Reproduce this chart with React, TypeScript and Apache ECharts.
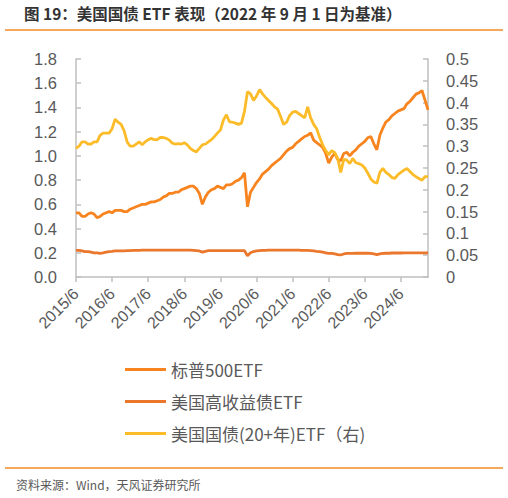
import * as echarts from 'echarts'
import { useEffect, useRef } from 'react'

// monthly points, first one is 2015/6
const startYear = 2015
const startMonth = 6

const sp500 = [
  0.53, 0.53, 0.5, 0.5, 0.52, 0.53, 0.52, 0.49, 0.5, 0.52, 0.53, 0.54,
  0.53, 0.55, 0.55, 0.55, 0.54, 0.54, 0.56, 0.57, 0.58, 0.59, 0.6, 0.6,
  0.61, 0.62, 0.62, 0.63, 0.64, 0.66, 0.67, 0.69, 0.69, 0.7, 0.7, 0.72,
  0.73, 0.74, 0.75, 0.75, 0.73, 0.69, 0.6, 0.66, 0.7, 0.72, 0.73, 0.75,
  0.74, 0.73, 0.76, 0.76, 0.77, 0.79, 0.8, 0.82, 0.86, 0.58, 0.7, 0.74,
  0.78, 0.81, 0.85, 0.87, 0.89, 0.92, 0.94, 0.96, 0.98, 1.01, 1.04, 1.06,
  1.07, 1.1, 1.12, 1.14, 1.16, 1.17, 1.19, 1.13, 1.11, 1.09, 1.07, 1.02,
  0.94, 0.99, 1.02, 0.97, 0.96, 1.02, 1.03, 1.0, 1.03, 1.05, 1.08, 1.1,
  1.12, 1.15, 1.16, 1.1, 1.05, 1.17, 1.23, 1.28, 1.3, 1.33, 1.35, 1.37,
  1.38, 1.39, 1.43, 1.45, 1.48, 1.51, 1.52, 1.54, 1.46, 1.38,
]

const highYield = [
  0.22, 0.22, 0.215, 0.21, 0.21, 0.205, 0.2, 0.2, 0.196, 0.2, 0.205, 0.21,
  0.212, 0.215, 0.215, 0.215, 0.215, 0.218, 0.218, 0.22, 0.22, 0.22, 0.222, 0.222,
  0.222, 0.222, 0.222, 0.222, 0.222, 0.222, 0.222, 0.222, 0.222, 0.222, 0.222, 0.222,
  0.222, 0.222, 0.222, 0.22, 0.218, 0.215, 0.205, 0.212, 0.218, 0.218, 0.218, 0.218,
  0.218, 0.218, 0.218, 0.218, 0.218, 0.218, 0.218, 0.218, 0.218, 0.175, 0.2, 0.21,
  0.215, 0.218, 0.22, 0.22, 0.222, 0.222, 0.222, 0.222, 0.222, 0.222, 0.222, 0.222,
  0.222, 0.222, 0.222, 0.22, 0.22, 0.22, 0.218, 0.215, 0.212, 0.21, 0.205, 0.2,
  0.195, 0.195, 0.19, 0.185, 0.182, 0.19, 0.195, 0.195, 0.195, 0.196, 0.196, 0.196,
  0.196, 0.196, 0.195, 0.19, 0.185, 0.19, 0.195, 0.196, 0.196, 0.198, 0.198, 0.198,
  0.198, 0.2, 0.2, 0.2, 0.2, 0.2, 0.2, 0.2, 0.2, 0.2,
]

// right axis
const treasury20 = [
  0.295, 0.3, 0.31, 0.31, 0.305, 0.305, 0.31, 0.31, 0.325, 0.33, 0.33, 0.33,
  0.34, 0.362, 0.355, 0.35, 0.335, 0.31, 0.3, 0.3, 0.305, 0.31, 0.303, 0.31,
  0.315, 0.318, 0.315, 0.315, 0.32, 0.32, 0.318, 0.314, 0.307, 0.305, 0.306, 0.305,
  0.308, 0.303, 0.295, 0.29, 0.287, 0.295, 0.303, 0.305, 0.31, 0.315, 0.322, 0.33,
  0.337, 0.36, 0.372, 0.356, 0.355, 0.353, 0.35, 0.353, 0.38, 0.425, 0.42, 0.405,
  0.415, 0.43, 0.42, 0.412, 0.405, 0.398, 0.39, 0.385, 0.368, 0.35, 0.355, 0.37,
  0.378, 0.38, 0.375, 0.37, 0.365, 0.39, 0.365, 0.35, 0.34, 0.32, 0.303, 0.29,
  0.28, 0.29, 0.285, 0.272, 0.24, 0.27, 0.268, 0.26, 0.272, 0.262, 0.26, 0.257,
  0.25, 0.238, 0.225, 0.218, 0.215, 0.24, 0.249, 0.24, 0.235, 0.228, 0.226, 0.235,
  0.24, 0.245, 0.249, 0.242, 0.235, 0.23, 0.226, 0.222, 0.23, 0.23,
]

const months = sp500.map((_, i) => {
  const t = startMonth - 1 + i
  return `${startYear + Math.floor(t / 12)}/${(t % 12) + 1}`
})

const seriesNames = ['标普500ETF', '美国高收益债ETF', '美国国债(20+年)ETF（右)']
const colors = ['#F7841E', '#EA772C', '#FCBC2A']

const font = '"Noto Sans CJK SC", "Noto Sans", sans-serif'
const numFont = '"Liberation Sans", Arial, sans-serif'

const App = () => {
  const chartRef = useRef<HTMLDivElement>(null)

  useEffect(() => {
    document.body.style.margin = '0'
    if (!chartRef.current) return
    const chart = echarts.init(chartRef.current, null, { renderer: 'svg' })

    const axisColor = '#BFBFBF'
    const labelColor = '#595959'

    chart.setOption({
      animation: false,
      color: colors,
      textStyle: { fontFamily: font },
      grid: { left: 76, right: 80, top: 59, bottom: 221 },
      legend: {
        orient: 'vertical',
        left: 125,
        top: 361,
        padding: 0,
        itemWidth: 41,
        itemHeight: 3,
        itemGap: 15,
        icon: 'rect',
        textStyle: { fontSize: 17, color: labelColor, fontFamily: font },
        data: seriesNames,
      },
      xAxis: {
        type: 'category',
        data: months,
        boundaryGap: false,
        axisLine: { lineStyle: { color: axisColor, width: 1.5 } },
        axisTick: { interval: 11, length: 5, lineStyle: { color: axisColor, width: 1.5 } },
        axisLabel: {
          interval: 11,
          rotate: 45,
          fontSize: 16,
          fontFamily: numFont,
          color: labelColor,
          margin: 14,
        },
        splitLine: { show: false },
      },
      yAxis: [
        {
          type: 'value',
          min: 0,
          max: 1.8,
          interval: 0.2,
          axisLine: { show: true, lineStyle: { color: axisColor, width: 1.5 } },
          axisTick: { show: true, inside: true, length: 5, lineStyle: { color: axisColor, width: 1.5 } },
          axisLabel: {
            fontSize: 16.5,
            fontFamily: numFont,
            color: labelColor,
            margin: 19,
            formatter: (v: number) => v.toFixed(1),
          },
          splitLine: { show: false },
        },
        {
          type: 'value',
          min: 0,
          max: 0.5,
          interval: 0.05,
          position: 'right',
          axisLine: { show: true, lineStyle: { color: axisColor, width: 1.5 } },
          axisTick: { show: true, inside: true, length: 5, lineStyle: { color: axisColor, width: 1.5 } },
          axisLabel: {
            fontSize: 16.5,
            fontFamily: numFont,
            color: labelColor,
            margin: 18,
            formatter: (v: number) => String(+v.toFixed(2)),
          },
          splitLine: { show: false },
        },
      ],
      series: [
        { name: seriesNames[0], data: sp500, yAxisIndex: 0 },
        { name: seriesNames[1], data: highYield, yAxisIndex: 0 },
        { name: seriesNames[2], data: treasury20, yAxisIndex: 1 },
      ].map((s) => ({
        ...s,
        type: 'line',
        showSymbol: false,
        symbol: 'none',
        lineStyle: { width: 2.8 },
      })),
      graphic: [
        {
          type: 'text',
          left: 24,
          top: 5,
          style: {
            text: '图 19：美国国债 ETF 表现（2022 年 9 月 1 日为基准）',
            font: `bold 15.5px ${font}`,
            fill: '#333333',
          },
        },
        {
          type: 'line',
          shape: { x1: 5, y1: 30, x2: 503, y2: 30 },
          style: { stroke: '#F28A24', lineWidth: 1.5 },
        },
        {
          type: 'line',
          shape: { x1: 5, y1: 468, x2: 503, y2: 468 },
          style: { stroke: '#F28A24', lineWidth: 1.5 },
        },
        {
          type: 'text',
          left: 16,
          top: 478,
          style: {
            text: '资料来源：Wind，天风证券研究所',
            font: `12px ${font}`,
            fill: '#595959',
          },
        },
      ],
    })

    return () => chart.dispose()
  }, [])

  return <div ref={chartRef} style={{ width: 508, height: 498 }} />
}

export default App
